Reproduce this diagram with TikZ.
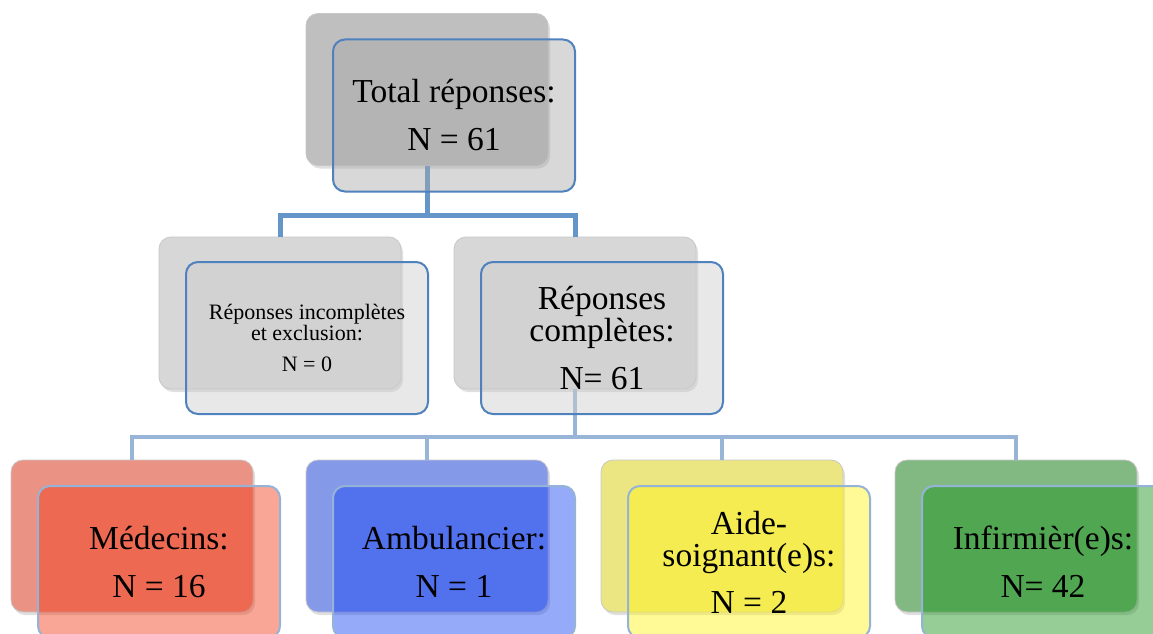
\documentclass[tikz,border=0pt]{standalone}
\usepackage{fontspec}
\setmainfont{Liberation Serif}
\usetikzlibrary{positioning,calc,shadows}
\definecolor{linkdark}{RGB}{100,150,202}
\definecolor{linklight}{RGB}{152,180,214}
\definecolor{edgedark}{RGB}{79,129,189}
\definecolor{edgelight}{RGB}{149,179,215}
\definecolor{backtop}{RGB}{191,191,191}
\definecolor{fronttop}{RGB}{168,168,168}
\definecolor{backmid}{RGB}{215,215,215}
\definecolor{frontmid}{RGB}{204,204,204}
\definecolor{backred}{RGB}{234,146,132}
\definecolor{frontred}{RGB}{242,57,22}
\definecolor{backblue}{RGB}{133,153,233}
\definecolor{frontblue}{RGB}{22,66,244}
\definecolor{backyellow}{RGB}{235,230,130}
\definecolor{frontyellow}{RGB}{255,244,22}
\definecolor{backgreen}{RGB}{130,185,130}
\definecolor{frontgreen}{RGB}{22,144,22}
\tikzset{
  backbox/.style={draw=black!22, line width=0.8pt, rounded corners=12pt,
              minimum width=242pt, minimum height=152pt,
              drop shadow={shadow xshift=2pt, shadow yshift=-3pt, opacity=0.25}},
  frontbox/.style={rounded corners=12pt, line width=2pt, inner sep=0pt,
              minimum width=242pt, minimum height=152pt, align=center,
              fill opacity=0.45, text opacity=1},
  bigtxt/.style={font=\fontsize{33.5}{32}\selectfont},
  smalltxt/.style={font=\fontsize{22}{21}\selectfont},
  toplink/.style={linkdark, line width=5pt},
  lowlink/.style={linklight, line width=4.5pt},
}
\begin{document}
\begin{tikzpicture}[x=1pt,y=-1pt]
  \useasboundingbox (0,0) rectangle (1153,634);
  \clip (0,0) rectangle (1153,634);
  % back boxes
  \node[backbox, fill=backtop] (total-b) at (427,89.5) {};
  \node[backbox, fill=backmid] (incompl-b) at (280,313) {};
  \node[backbox, fill=backmid] (compl-b) at (575,313) {};
  \foreach \nm/\x/\col in {med/132/red, amb/427/blue, aide/722/yellow, inf/1016/green}
    \node[backbox, fill=back\col] (\nm-b) at (\x,536) {};
  % links
  \coordinate (split-top) at (427,215);
  \draw[toplink] (total-b.south) -- (split-top) -| (incompl-b.north);
  \draw[toplink] (split-top) -| (compl-b.north);
  \coordinate (split-low) at (575,437);
  \draw[lowlink] (compl-b.south) -- (split-low);
  \foreach \nm in {med,amb,aide,inf}
    \draw[lowlink] (split-low) -| (\nm-b.north);
  % front boxes
  \node[frontbox, draw=edgedark, fill=fronttop, bigtxt] (total) at ($(total-b)+(27,26)$)
    {Total réponses:\\[16pt]N = 61};
  \node[frontbox, draw=edgedark, fill=frontmid, smalltxt] (incompl) at ($(incompl-b)+(27,25)$)
    {Réponses incomplètes\\et exclusion:\\[10pt]N = 0};
  \node[frontbox, draw=edgedark, fill=frontmid, bigtxt] (compl) at ($(compl-b)+(27,25)$)
    {Réponses\\complètes:\\[16pt]N= 61};
  \foreach \nm/\col/\txt in {med/red/{Médecins:\\[16pt]N = 16},
                             amb/blue/{Ambulancier:\\[16pt]N = 1},
                             aide/yellow/{Aide-\\soignant(e)s:\\[15pt]N = 2},
                             inf/green/{Infirmièr(e)s:\\[16pt]N= 42}}
    \node[frontbox, draw=edgelight, fill=front\col, bigtxt] (\nm) at ($(\nm-b)+(27,26)$) {\txt};
\end{tikzpicture}
\end{document}
